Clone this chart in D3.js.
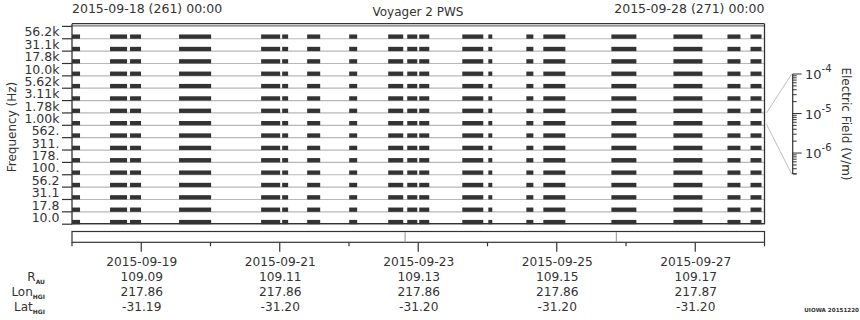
<!DOCTYPE html>
<html>
<head>
<meta charset="utf-8">
<script src="https://cdn.jsdelivr.net/npm/d3@7"></script>
<style>
  html, body { margin: 0; padding: 0; background: #fff; }
  svg { display: block; font-family: "DejaVu Sans", sans-serif; }
</style>
</head>
<body>
<svg id="chart" width="860" height="320"></svg>
<script>
// ---- Data ----
const channelLabels = ["10.0","17.8","31.1","56.2","100.","178.","311.","562.","1.00k","1.78k","3.11k","5.62k","10.0k","17.8k","31.1k","56.2k"];
// data coverage segments, day-of-year 2015 (decimal days)
const segStart = [261.000, 261.549, 261.838, 262.546, 263.731, 264.035, 264.396, 265.003, 265.566, 265.841, 266.014, 266.636, 267.012, 267.561, 267.806, 268.789, 269.685, 270.465, 270.798];
const segEnd   = [261.116, 261.795, 261.997, 263.009, 264.006, 264.121, 264.584, 265.118, 265.783, 265.986, 266.159, 266.939, 267.069, 267.662, 268.124, 269.150, 270.104, 270.653, 270.957];
// markers in the lower strip (day-of-year)
const stripMarks = [265.81, 268.86];
// time ticks
const tickDays = [261, 262, 263, 264, 265, 266, 267, 268, 269, 270, 271];
const labelDays = [262, 264, 266, 268, 270];
const dateLabels = ["2015-09-19", "2015-09-21", "2015-09-23", "2015-09-25", "2015-09-27"];
const rAU  = ["109.09", "109.11", "109.13", "109.15", "109.17"];
const lonHGI = ["217.86", "217.86", "217.86", "217.86", "217.87"];
const latHGI = ["-31.19", "-31.20", "-31.20", "-31.20", "-31.20"];
const colorbarTicks = [1e-4, 1e-5, 1e-6];
const colorbarExps = ["-4", "-5", "-6"];
const titleText = "Voyager 2 PWS";
const startLabel = "2015-09-18 (261) 00:00";
const endLabel = "2015-09-28 (271) 00:00";

(function () {
// ---- Layout ----
const svg = d3.select("#chart");
const pLeft = 72, pRight = 764.5, pTop = 23.7, pBottom = 223.7;
const ink = "#333333";

const x = d3.scaleLinear().domain([261, 271]).range([pLeft, pRight]);
const y = d3.scaleLinear().domain([0, 16]).range([pBottom, 25.9]);

// baselines
const g = svg.append("g");
g.selectAll("line.base").data(d3.range(0, 16)).join("line")
  .attr("x1", pLeft).attr("x2", pRight)
  .attr("y1", d => y(d) + 0.5).attr("y2", d => y(d) + 0.5)
  .attr("stroke", "#b8b8b8").attr("stroke-width", 1.2);
// upper gray line
g.append("line").attr("x1", pLeft).attr("x2", pRight)
  .attr("y1", y(16)).attr("y2", y(16)).attr("stroke", "#707070").attr("stroke-width", 1.2);

// bars
const segs = segStart.map((s, i) => ({ s, e: segEnd[i] }));
d3.range(0, 16).forEach(k => {
  g.append("g").selectAll("rect").data(segs).join("rect")
    .attr("x", d => x(d.s)).attr("width", d => x(d.e) - x(d.s))
    .attr("y", y(k) - 3.8).attr("height", 4.3)
    .attr("fill", ink);
});

// frame
svg.append("line").attr("x1", pLeft).attr("x2", pRight).attr("y1", pTop).attr("y2", pTop).attr("stroke", ink).attr("stroke-width", 1.3);
svg.append("line").attr("x1", pLeft).attr("x2", pRight).attr("y1", pBottom).attr("y2", pBottom).attr("stroke", ink).attr("stroke-width", 1.3);
svg.append("line").attr("x1", pLeft).attr("x2", pLeft).attr("y1", pTop).attr("y2", pBottom + 0.6).attr("stroke", ink).attr("stroke-width", 1.3);
svg.append("line").attr("x1", pRight).attr("x2", pRight).attr("y1", pTop).attr("y2", pBottom + 0.6).attr("stroke", ink).attr("stroke-width", 1.3);

// left axis ticks and labels
svg.append("g").selectAll("line").data(d3.range(0, 17)).join("line")
  .attr("x1", 62).attr("x2", pLeft)
  .attr("y1", d => y(d) + 0.5).attr("y2", d => y(d) + 0.5)
  .attr("stroke", ink).attr("stroke-width", 1.2);
svg.append("g").selectAll("text").data(channelLabels).join("text")
  .attr("x", 59.5).attr("y", (d, i) => y(i + 0.5) + 4.4)
  .attr("text-anchor", "end").attr("font-size", 12.5).attr("fill", ink)
  .text(d => d);
svg.append("text").attr("transform", "translate(16,127) rotate(-90)")
  .attr("text-anchor", "middle").attr("font-size", 12).attr("fill", ink)
  .text("Frequency (Hz)");

// titles
svg.append("text").attr("x", 418).attr("y", 16).attr("text-anchor", "middle")
  .attr("font-size", 12).attr("fill", ink).text(titleText);
svg.append("text").attr("x", pLeft).attr("y", 13).attr("text-anchor", "start")
  .attr("font-size", 12.5).attr("fill", ink).text(startLabel);
svg.append("text").attr("x", pRight).attr("y", 13).attr("text-anchor", "end")
  .attr("font-size", 12.5).attr("fill", ink).text(endLabel);

// lower strip
const sTop = 231.5, sBot = 242.3;
svg.append("rect").attr("x", pLeft).attr("y", sTop).attr("width", pRight - pLeft).attr("height", sBot - sTop)
  .attr("fill", "none").attr("stroke", ink).attr("stroke-width", 1.2);
svg.append("g").selectAll("line").data(stripMarks).join("line")
  .attr("x1", d => x(d)).attr("x2", d => x(d)).attr("y1", sTop + 0.6).attr("y2", sBot - 0.6)
  .attr("stroke", "#909090").attr("stroke-width", 1);
svg.append("g").selectAll("line").data(tickDays).join("line")
  .attr("x1", d => x(d)).attr("x2", d => x(d))
  .attr("y1", sBot).attr("y2", d => labelDays.includes(d) ? sBot + 9.5 : sBot + 4)
  .attr("stroke", ink).attr("stroke-width", 1.2);

// ephemeris labels
const rows = [
  { vals: dateLabels, y: 266 },
  { vals: rAU, y: 281 },
  { vals: lonHGI, y: 296 },
  { vals: latHGI, y: 311 }
];
rows.forEach(r => {
  svg.append("g").selectAll("text").data(r.vals).join("text")
    .attr("x", (d, i) => x(labelDays[i]) + 0.5).attr("y", r.y)
    .attr("text-anchor", "middle").attr("font-size", 12.2).attr("fill", ink)
    .text(d => d);
});
const rowNames = [["R", "AU", 281], ["Lon", "HGI", 296], ["Lat", "HGI", 311]];
rowNames.forEach(([main, sub, yy]) => {
  const t = svg.append("text").attr("x", 45).attr("y", yy).attr("text-anchor", "end")
    .attr("font-size", 12).attr("fill", ink);
  t.append("tspan").text(main);
  t.append("tspan").attr("dy", 3).attr("font-size", 6).attr("font-weight", "bold").text(sub);
});

svg.append("text").attr("x", 859).attr("y", 312).attr("text-anchor", "end")
  .attr("font-size", 5.6).attr("font-weight", "bold").attr("fill", ink).text("UIOWA 20151220");

// colorbar axis
const cb = d3.scaleLog().domain([1e-4, 2.95e-7]).range([74, 174]);
const cx = 792.7;
svg.append("line").attr("x1", cx).attr("x2", cx).attr("y1", 74).attr("y2", 174).attr("stroke", ink).attr("stroke-width", 1.2);
const minor = [];
[1e-7, 1e-6, 1e-5].forEach(b => { for (let m = 1; m <= 9; m++) { const v = b * m; if (v >= 2.95e-7 && v <= 1e-4) minor.push(v); } });
minor.push(1e-4);
svg.append("g").selectAll("line").data(minor).join("line")
  .attr("x1", cx).attr("x2", d => colorbarTicks.some(t => Math.abs(t - d) / t < 1e-6) ? cx + 9 : cx + 4)
  .attr("y1", d => cb(d)).attr("y2", d => cb(d))
  .attr("stroke", ink).attr("stroke-width", 1);
svg.append("line").attr("x1", cx).attr("x2", cx + 4).attr("y1", 174).attr("y2", 174).attr("stroke", ink).attr("stroke-width", 1);
colorbarTicks.forEach((v, i) => {
  const t = svg.append("text").attr("x", 805).attr("y", cb(v) + 5).attr("font-size", 13).attr("fill", ink);
  t.append("tspan").text("10");
  t.append("tspan").attr("dy", -7).attr("font-size", 10).text(colorbarExps[i]);
});
svg.append("text").attr("transform", "translate(842,124) rotate(90)")
  .attr("text-anchor", "middle").attr("font-size", 12).attr("fill", ink)
  .text("Electric Field (V/m)");

// connector lines
svg.append("line").attr("x1", 766.5).attr("y1", y(9) + 0.5).attr("x2", cx - 1).attr("y2", 74)
  .attr("stroke", "#c0c0c0").attr("stroke-width", 1);
svg.append("line").attr("x1", 766.5).attr("y1", y(8) - 0.5).attr("x2", cx - 1).attr("y2", 174)
  .attr("stroke", "#c0c0c0").attr("stroke-width", 1);
})();
</script>
</body>
</html>
